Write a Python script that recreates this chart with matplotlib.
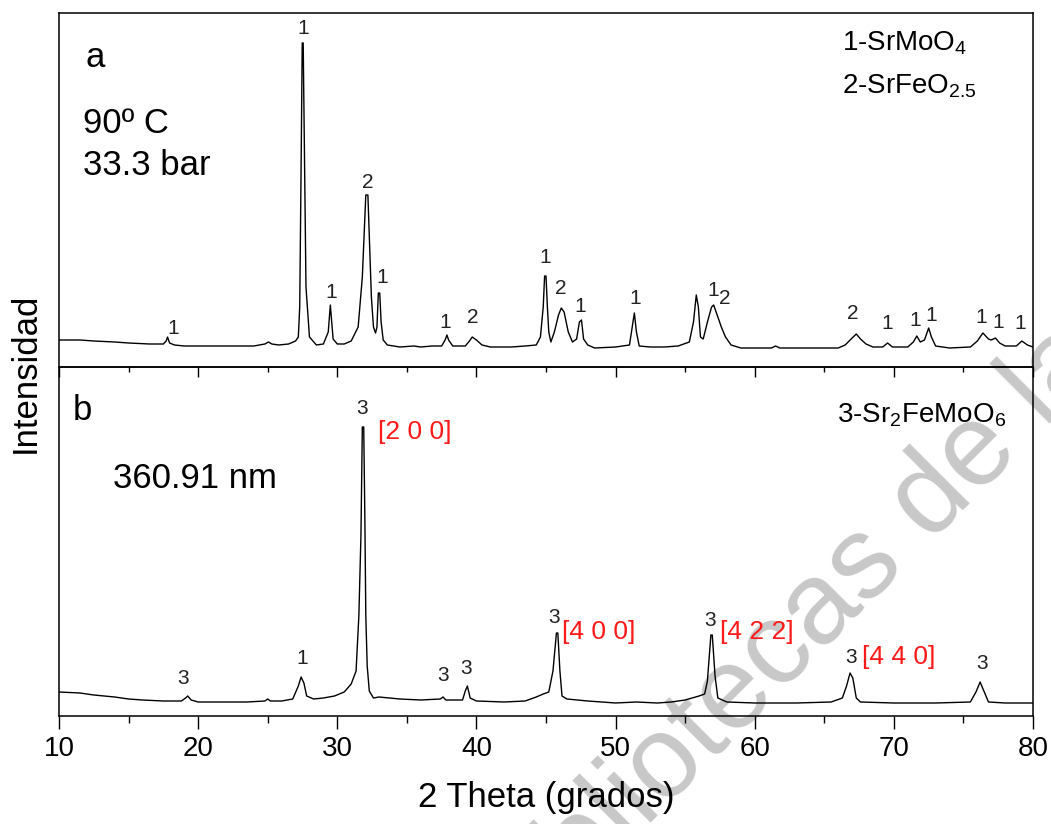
import numpy as np
import matplotlib
matplotlib.use('Agg')
import matplotlib.pyplot as plt
from matplotlib.ticker import MultipleLocator, NullLocator

plt.rcParams['font.family'] = ['Liberation Sans', 'DejaVu Sans']
plt.rcParams['mathtext.default'] = 'regular'

# panel a : 90 C, 33.3 bar  (2theta, intensity a.u.)
tt_a = [10.0, 11.5, 12.5, 14.0, 15.0, 16.5, 17.5, 17.7, 17.8, 17.95, 18.3, 19.0, 20.5, 22.0,
        24.0, 24.8, 25.05, 25.3, 25.8, 26.5, 27.0, 27.2, 27.3, 27.4, 27.48, 27.55, 27.65, 27.75,
        28.0, 28.5, 29.0, 29.35, 29.5, 29.6, 29.7, 30.0, 30.5, 31.0, 31.5, 31.8, 31.95, 32.05,
        32.2, 32.3, 32.45, 32.6, 32.75, 32.85, 32.95, 33.05, 33.15, 33.3, 33.6, 34.5, 35.5, 36.0,
        36.8, 37.5, 37.75, 37.88, 38.0, 38.3, 39.2, 39.5, 39.7, 40.0, 40.4, 41.0, 42.5, 43.5,
        44.3, 44.6, 44.8, 44.9, 45.0, 45.1, 45.2, 45.35, 45.6, 45.9, 46.1, 46.3, 46.6, 46.9,
        47.2, 47.4, 47.55, 47.7, 48.0, 48.5, 50.0, 51.0, 51.2, 51.35, 51.5, 51.7, 52.5, 53.5,
        54.5, 55.3, 55.6, 55.8, 55.95, 56.1, 56.3, 56.6, 56.9, 57.05, 57.3, 57.6, 57.9, 58.3,
        59.0, 61.2, 61.5, 61.8, 64.0, 66.0, 66.5, 67.0, 67.3, 67.6, 68.0, 68.5, 69.2, 69.55,
        69.9, 71.0, 71.4, 71.65, 71.9, 72.2, 72.5, 72.7, 73.0, 74.0, 75.5, 76.0, 76.4, 76.8,
        77.0, 77.3, 77.6, 78.0, 78.8, 79.2, 79.6, 80.0]
int_a = [27, 27, 26, 25, 24, 23, 23, 26, 30, 24, 22, 21, 21, 21,
         21, 23, 25, 23, 22, 23, 26, 30, 60, 200, 324, 324, 200, 80,
         30, 22, 23, 35, 62, 45, 28, 23, 23, 26, 40, 90, 140, 172,
         172, 130, 70, 40, 34, 40, 74, 74, 45, 27, 22, 20, 21, 20,
         21, 21, 27, 32, 27, 21, 21, 26, 30, 27, 22, 20, 20, 21,
         22, 30, 60, 91, 91, 60, 35, 25, 35, 52, 59, 55, 35, 25,
         28, 45, 47, 28, 22, 19, 20, 22, 40, 54, 35, 21, 20, 20,
         21, 25, 45, 72, 60, 30, 28, 45, 60, 62, 52, 40, 30, 22,
         19, 19, 21, 19, 19, 19, 22, 29, 33, 28, 23, 20, 20, 24,
         20, 20, 25, 31, 25, 27, 39, 30, 21, 19, 20, 26, 34, 28,
         27, 29, 24, 21, 21, 26, 22, 20]

# panel b : 360.91 nm
tt_b = [10.0, 11.5, 12.5, 14.0, 15.0, 16.0, 17.5, 18.8, 19.1, 19.25, 19.5, 20.0, 22.0, 23.5,
        24.8, 25.0, 25.2, 26.0, 26.8, 27.2, 27.4, 27.6, 27.8, 28.3, 29.0, 29.8, 30.5, 31.0,
        31.35, 31.55, 31.7, 31.8, 31.9, 31.98, 32.05, 32.15, 32.3, 32.6, 33.0, 34.5, 36.0, 37.4,
        37.6, 37.8, 39.0, 39.2, 39.35, 39.55, 40.0, 42.0, 43.5, 44.3, 44.8, 45.2, 45.5, 45.75,
        45.85, 46.0, 46.15, 46.5, 48.0, 50.0, 51.5, 53.0, 54.0, 55.0, 56.0, 56.4, 56.6, 56.85,
        56.95, 57.15, 57.35, 58.0, 60.0, 63.0, 65.5, 66.3, 66.6, 66.85, 67.05, 67.3, 67.6, 70.0,
        73.0, 75.5, 75.9, 76.2, 76.5, 76.8, 78.0, 80.0]
int_b = [24, 23, 21, 19, 17, 16, 15, 15, 18, 20, 16, 14, 14, 14,
         15, 17, 15, 15, 17, 30, 39, 33, 20, 17, 18, 20, 24, 32,
         45, 100, 180, 289, 289, 200, 100, 50, 25, 18, 19, 17, 16, 17,
         19, 16, 16, 25, 30, 18, 15, 14, 15, 19, 22, 24, 45, 83,
         83, 45, 20, 17, 15, 13, 14, 13, 14, 16, 20, 22, 35, 81,
         81, 40, 18, 14, 13, 13, 14, 18, 30, 43, 38, 18, 14, 13,
         13, 14, 24, 34, 24, 14, 13, 13]

# phase labels: (2theta, label height, text)
lab_a_x = [18.19, 27.54, 29.55, 32.21, 33.21, 37.74, 39.75, 44.93, 46.08, 47.44, 51.40,
           57.00, 57.86, 67.06, 69.51, 71.52, 72.67, 76.26, 77.49, 79.07]
lab_a_y = [29, 329, 65, 175, 80, 35, 40, 100, 69, 51, 59,
           67, 59, 44, 34, 37, 42, 40, 35, 34]
lab_a_t = ['1', '1', '1', '2', '1', '1', '2', '1', '2', '1', '1',
           '1', '2', '2', '1', '1', '1', '1', '1', '1']

lab_b_x = [18.91, 27.46, 31.78, 37.60, 39.25, 45.58, 56.79, 66.92, 76.34]
lab_b_y = [28, 48, 298, 31, 38, 89, 86, 49, 43]
lab_b_t = ['3', '1', '3', '3', '3', '3', '3', '3', '3']

hkl_x = [32.93, 46.15, 57.50, 67.71]
hkl_y = [284, 84, 84, 59]
hkl_t = ['[2 0 0]', '[4 0 0]', '[4 2 2]', '[4 4 0]']

W, H = 1051, 824
fig = plt.figure(figsize=(W / 100, H / 100), dpi=100)
fig.patch.set_facecolor('white')

# watermark
fig.text(0.484, -0.172, 'Bibliotecas de la Universidad', rotation=45, rotation_mode='anchor',
         ha='left', va='baseline', fontsize=84, color='#c8c8c8', zorder=-1)

ax1 = fig.add_axes([59 / W, 1 - 367 / H, 974 / W, 354 / H])
ax2 = fig.add_axes([59 / W, 1 - 716 / H, 974 / W, 349 / H])

ax1.plot(tt_a, int_a, color='black', lw=1.0)
ax2.plot(tt_b, int_b, color='black', lw=1.0)
ax1.set_ylim(0, 354)
ax2.set_ylim(0, 349)

for ax in (ax1, ax2):
    ax.set_facecolor('none')
    ax.set_xlim(10, 80)
    ax.xaxis.set_major_locator(MultipleLocator(10))
    ax.xaxis.set_minor_locator(MultipleLocator(5))
    ax.yaxis.set_major_locator(NullLocator())
    ax.yaxis.set_minor_locator(NullLocator())
    for s in ax.spines.values():
        s.set_linewidth(1.1)

ax1.tick_params(axis='x', which='major', direction='out', length=7, width=1, labelbottom=False)
ax1.tick_params(axis='x', which='minor', direction='out', length=3.5, width=1)
ax2.tick_params(axis='x', which='major', direction='out', length=9.5, width=1,
                labelsize=20, pad=5)
ax2.tick_params(axis='x', which='minor', direction='out', length=5, width=1)

for x, y, t in zip(lab_a_x, lab_a_y, lab_a_t):
    ax1.text(x, y, t, ha='center', va='bottom', fontsize=15, color='#222222')
for x, y, t in zip(lab_b_x, lab_b_y, lab_b_t):
    ax2.text(x, y, t, ha='center', va='bottom', fontsize=15, color='#222222')
for x, y, t in zip(hkl_x, hkl_y, hkl_t):
    ax2.text(x, y, t, ha='left', va='center', fontsize=19, color='#ff1a1a')

ax1.text(0.0267, 0.847, 'a', transform=ax1.transAxes, fontsize=25, va='baseline')
ax1.text(0.0246, 0.661, '90º C', transform=ax1.transAxes, fontsize=25, va='baseline')
ax1.text(0.0246, 0.542, '33.3 bar', transform=ax1.transAxes, fontsize=25, va='baseline')
ax1.text(0.804, 0.895, '1-SrMoO$_4$', transform=ax1.transAxes, fontsize=20, va='baseline')
ax1.text(0.804, 0.774, '2-SrFeO$_{2.5}$', transform=ax1.transAxes, fontsize=20, va='baseline')

ax2.text(0.0144, 0.848, 'b', transform=ax2.transAxes, fontsize=25, va='baseline')
ax2.text(0.0554, 0.653, '360.91 nm', transform=ax2.transAxes, fontsize=25, va='baseline')
ax2.text(0.799, 0.84, '3-Sr$_2$FeMoO$_6$', transform=ax2.transAxes, fontsize=20, va='baseline')

fig.text(546 / W, 1 - 798 / H, '2 Theta (grados)', ha='center', va='center', fontsize=25)
fig.text(25 / W, 1 - 373 / H, 'Intensidad', ha='center', va='center', rotation=90, fontsize=25)

fig.savefig('out.png', dpi=100)
